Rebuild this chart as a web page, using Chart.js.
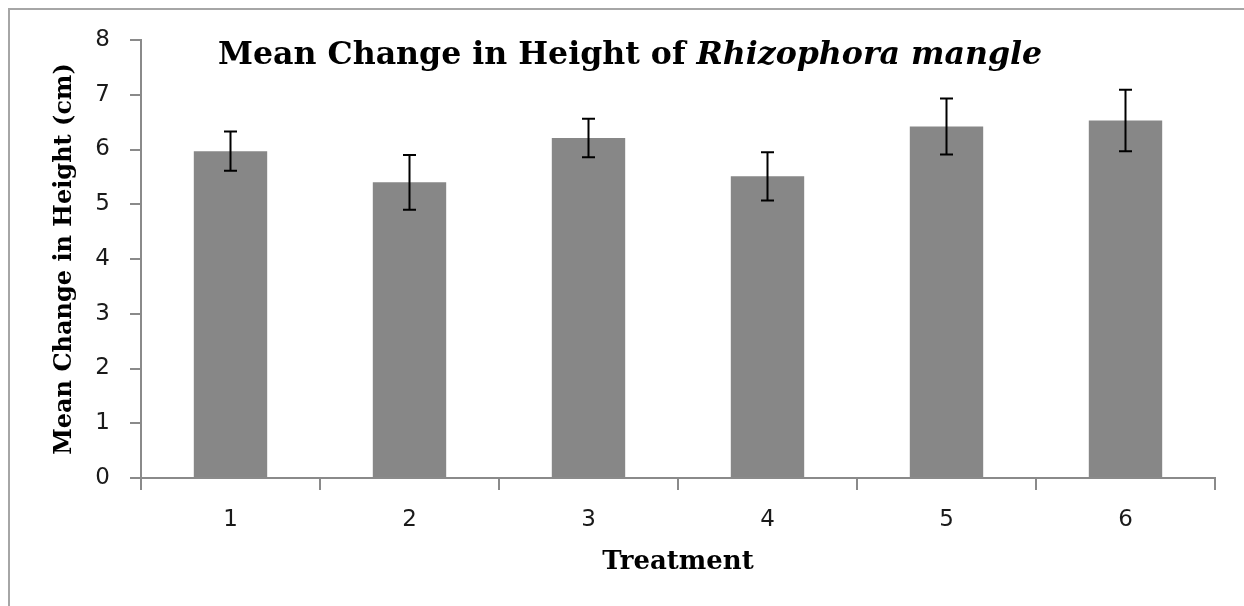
<!DOCTYPE html>
<html>
<head>
<meta charset="utf-8">
<script src="https://cdn.jsdelivr.net/npm/chart.js@4.4.1/dist/chart.umd.min.js"></script>
<style>
  html, body { margin: 0; padding: 0; background: #fff; }
  #wrap { position: relative; width: 1244px; height: 606px; overflow: hidden; }
  #frame { position: absolute; left: 8px; top: 8px; width: 1300px; height: 700px;
           border-top: 2px solid #a6a6a6; border-left: 2px solid #a6a6a6; }
  #c { position: absolute; left: 0; top: 0; }
  #title { position: absolute; left: 218px; top: 37px; white-space: nowrap;
           font-family: "DejaVu Serif", serif; font-weight: bold; font-size: 31.6px;
           line-height: 31px; color: #000; }
</style>
</head>
<body>
<div id="wrap">
  <div id="frame"></div>
  <canvas id="c" width="1244" height="606"></canvas>
  <div id="title">Mean Change in Height of <i>Rhizophora mangle</i></div>
</div>
<script>
const categories = ["1", "2", "3", "4", "5", "6"];
const meanChange = [5.97, 5.40, 6.21, 5.51, 6.42, 6.53];
const errorSize = [0.36, 0.50, 0.35, 0.44, 0.51, 0.56];
const yTicks = [0, 1, 2, 3, 4, 5, 6, 7, 8];
const yTitle = "Mean Change in Height (cm)";
const xTitle = "Treatment";

const errorBars = {
  id: 'errorBars',
  afterDatasetsDraw(chart) {
    const meta = chart.getDatasetMeta(0);
    const ys = chart.scales.y;
    const ctx = chart.ctx;
    ctx.save();
    ctx.strokeStyle = '#000';
    ctx.lineWidth = 2;
    meta.data.forEach((bar, i) => {
      const x = bar.x;
      const top = ys.getPixelForValue(meanChange[i] + errorSize[i]);
      const bot = ys.getPixelForValue(meanChange[i] - errorSize[i]);
      ctx.beginPath();
      ctx.moveTo(x, top); ctx.lineTo(x, bot);
      ctx.moveTo(x - 6.5, top); ctx.lineTo(x + 6.5, top);
      ctx.moveTo(x - 6.5, bot); ctx.lineTo(x + 6.5, bot);
      ctx.stroke();
    });
    ctx.restore();
  }
};

const axisColor = '#8a8a8a';
const tickFont = { family: '"DejaVu Sans", Verdana, sans-serif', size: 23 };
const yTitleFont = { family: '"DejaVu Serif", serif', size: 24, weight: 'bold' };
const xTitleFont = { family: '"DejaVu Serif", serif', size: 26, weight: 'bold' };

new Chart(document.getElementById('c'), {
  type: 'bar',
  data: {
    labels: categories,
    datasets: [{
      data: meanChange,
      backgroundColor: '#878787',
      borderWidth: 0,
      categoryPercentage: 1.0,
      barPercentage: 0.41
    }]
  },
  options: {
    responsive: false,
    animation: false,
    devicePixelRatio: 1,
    layout: { padding: { left: 0, right: 29, top: 40, bottom: 0 } },
    plugins: { legend: { display: false }, tooltip: { enabled: false }, title: { display: false } },
    scales: {
      x: {
        offset: true,
        grid: { display: true, offset: true, drawOnChartArea: false, drawTicks: true, tickLength: 12, color: axisColor, lineWidth: 2 },
        border: { display: true, color: axisColor, width: 2 },
        ticks: { font: tickFont, color: '#1a1a1a', padding: 16 },
        title: { display: true, text: xTitle, font: xTitleFont, color: '#000', padding: { top: 0, bottom: 28 } },
        afterFit(scale) { scale.height = 128; }
      },
      y: {
        min: 0, max: 8,
        afterBuildTicks(scale) { scale.ticks = yTicks.map(v => ({ value: v })); },
        grid: { display: true, drawOnChartArea: false, drawTicks: true, tickLength: 11, color: axisColor, lineWidth: 2 },
        border: { display: true, color: axisColor, width: 2 },
        ticks: { font: tickFont, color: '#1a1a1a', padding: 20 },
        title: { display: true, text: yTitle, font: yTitleFont, color: '#000', padding: { top: 50, bottom: 0 } },
        afterFit(scale) { scale.width = 141; }
      }
    }
  },
  plugins: [errorBars]
});
</script>
</body>
</html>
